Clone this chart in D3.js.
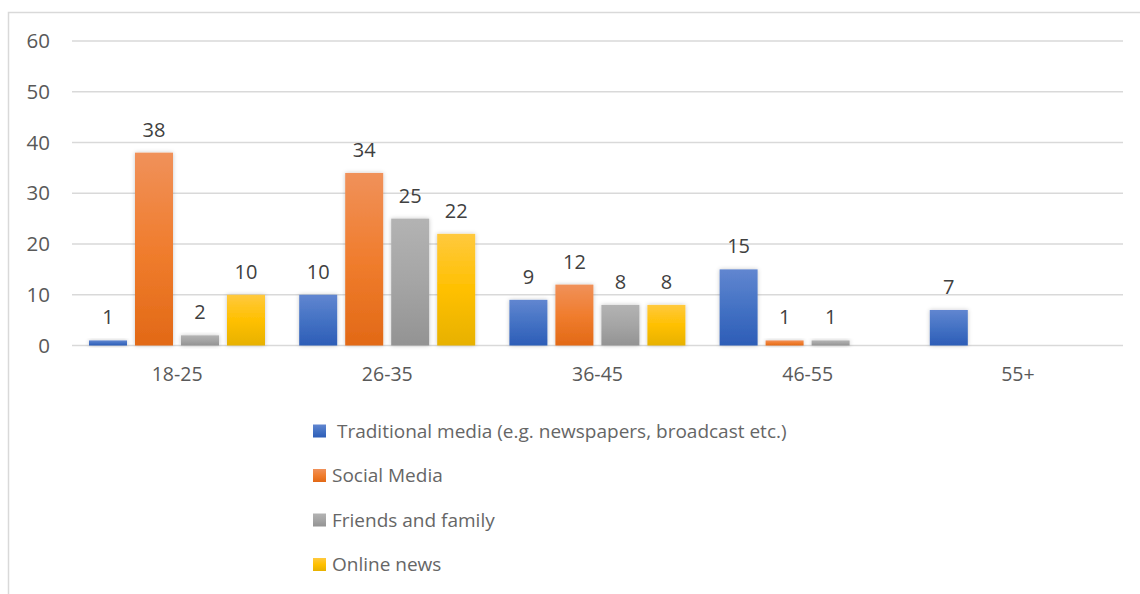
<!DOCTYPE html>
<html>
<head>
<meta charset="utf-8">
<script src="https://cdn.jsdelivr.net/npm/d3@7"></script>
<style>
  html, body { margin: 0; padding: 0; background: #fff; }
  svg { display: block; font-family: "Open Sans", "Noto Sans", sans-serif; }
</style>
</head>
<body>
<svg id="chart" width="1140" height="594"></svg>
<script>
// Age groups along the x axis
const categories = ["18-25", "26-35", "36-45", "46-55", "55+"];

// Respondents per main news source (null = no answer in that group)
const traditionalMedia = [1, 10, 9, 15, 7];
const socialMedia      = [38, 34, 12, 1, null];
const friendsFamily    = [2, 25, 8, 1, null];
const onlineNews       = [10, 22, 8, null, null];

const seriesNames = [
  " Traditional media (e.g. newspapers, broadcast etc.)",
  "Social Media",
  "Friends and family",
  "Online news"
];
const seriesValues = [traditionalMedia, socialMedia, friendsFamily, onlineNews];

const yTicks = [0, 10, 20, 30, 40, 50, 60];

// Office-style gradient stops: light top, base middle, darker bottom
const palette = [
  ["#6186d0", "#4472c4", "#2d5db7"],
  ["#f0915a", "#f07d2e", "#e26916"],
  ["#b3b3b3", "#a5a5a5", "#939393"],
  ["#ffc93e", "#ffc000", "#e7b100"]
];

const svg = d3.select("#chart");
const W = 1140, H = 594;
const plot = { left: 72, right: 1123, top: 41, bottom: 345.5 };

const defs = svg.append("defs");
palette.forEach((c, i) => {
  const g = defs.append("linearGradient")
    .attr("id", "grad" + i).attr("x1", 0).attr("y1", 0).attr("x2", 0).attr("y2", 1);
  g.append("stop").attr("offset", "0%").attr("stop-color", c[0]);
  g.append("stop").attr("offset", "50%").attr("stop-color", c[1]);
  g.append("stop").attr("offset", "100%").attr("stop-color", c[2]);
});
const shadow = defs.append("filter").attr("id", "softShadow")
  .attr("x", "-30%").attr("y", "-30%").attr("width", "160%").attr("height", "160%");
shadow.append("feGaussianBlur").attr("in", "SourceAlpha").attr("stdDeviation", 2.2).attr("result", "blur");
shadow.append("feFlood").attr("flood-color", "#000").attr("flood-opacity", 0.22);
shadow.append("feComposite").attr("in2", "blur").attr("operator", "in").attr("result", "shade");
const merge = shadow.append("feMerge");
merge.append("feMergeNode").attr("in", "shade");
merge.append("feMergeNode").attr("in", "SourceGraphic");

// Chart area frame (top and left edges visible)
svg.append("path")
  .attr("d", `M8.5,${H} V12.5 H${W}`)
  .attr("fill", "none").attr("stroke", "#d9d9d9").attr("stroke-width", 1.5);

const x = d3.scaleBand().domain(categories).range([plot.left, plot.right]);
const xs = d3.scaleBand().domain(d3.range(seriesValues.length))
  .range([17, 193]).paddingInner(8 / 46);
const y = d3.scaleLinear().domain([0, 60]).range([plot.bottom, plot.top]);

// Gridlines
svg.append("g").selectAll("line").data(yTicks).join("line")
  .attr("x1", plot.left).attr("x2", plot.right)
  .attr("y1", d => y(d)).attr("y2", d => y(d))
  .attr("stroke", "#d9d9d9").attr("stroke-width", 1.5);

// Y axis labels
const yAxis = d3.axisLeft(y).tickValues(yTicks).tickSize(0).tickPadding(0);
svg.append("g").attr("transform", "translate(50,0)").call(yAxis)
  .call(g => g.select(".domain").remove())
  .selectAll("text")
  .attr("fill", "#595959").style("font-size", "20.5px")
  .style("font-family", '"Open Sans", sans-serif');

// X axis labels
const xAxis = d3.axisBottom(x).tickSize(0).tickPadding(0);
svg.append("g").attr("transform", `translate(0,${plot.bottom + 22})`).call(xAxis)
  .call(g => g.select(".domain").remove())
  .selectAll("text")
  .attr("fill", "#595959").style("font-size", "19.5px")
  .style("font-family", '"Open Sans", sans-serif');

// Bars and value labels
const cells = [];
seriesValues.forEach((vals, s) => {
  vals.forEach((v, i) => {
    if (v !== null) cells.push({ s, cat: categories[i], v });
  });
});

const bars = svg.append("g");
bars.selectAll("rect").data(cells).join("rect")
  .attr("x", d => x(d.cat) + xs(d.s))
  .attr("width", xs.bandwidth())
  .attr("y", d => y(d.v))
  .attr("height", d => y(0) - y(d.v))
  .attr("fill", d => `url(#grad${d.s})`)
  .attr("filter", "url(#softShadow)");

svg.append("g").selectAll("text").data(cells).join("text")
  .attr("x", d => x(d.cat) + xs(d.s) + xs.bandwidth() / 2)
  .attr("y", d => y(d.v) - 16)
  .attr("text-anchor", "middle")
  .attr("fill", "#404040")
  .style("font-size", "20px")
  .text(d => d.v);

// Legend
const legend = svg.append("g").attr("transform", "translate(313,0)");
const rowY = [431, 475.5, 520, 564.5];
const rows = legend.selectAll("g").data(seriesNames).join("g")
  .attr("transform", (d, i) => `translate(0,${rowY[i]})`);
rows.append("rect")
  .attr("x", 0).attr("y", -6.5).attr("width", 13).attr("height", 13)
  .attr("fill", (d, i) => `url(#grad${i})`);
rows.append("text")
  .attr("x", 19).attr("y", 0).attr("dy", "0.35em")
  .attr("fill", "#666666")
  .style("font-size", "19px")
  .style("white-space", "pre")
  .text(d => d);
</script>
</body>
</html>
